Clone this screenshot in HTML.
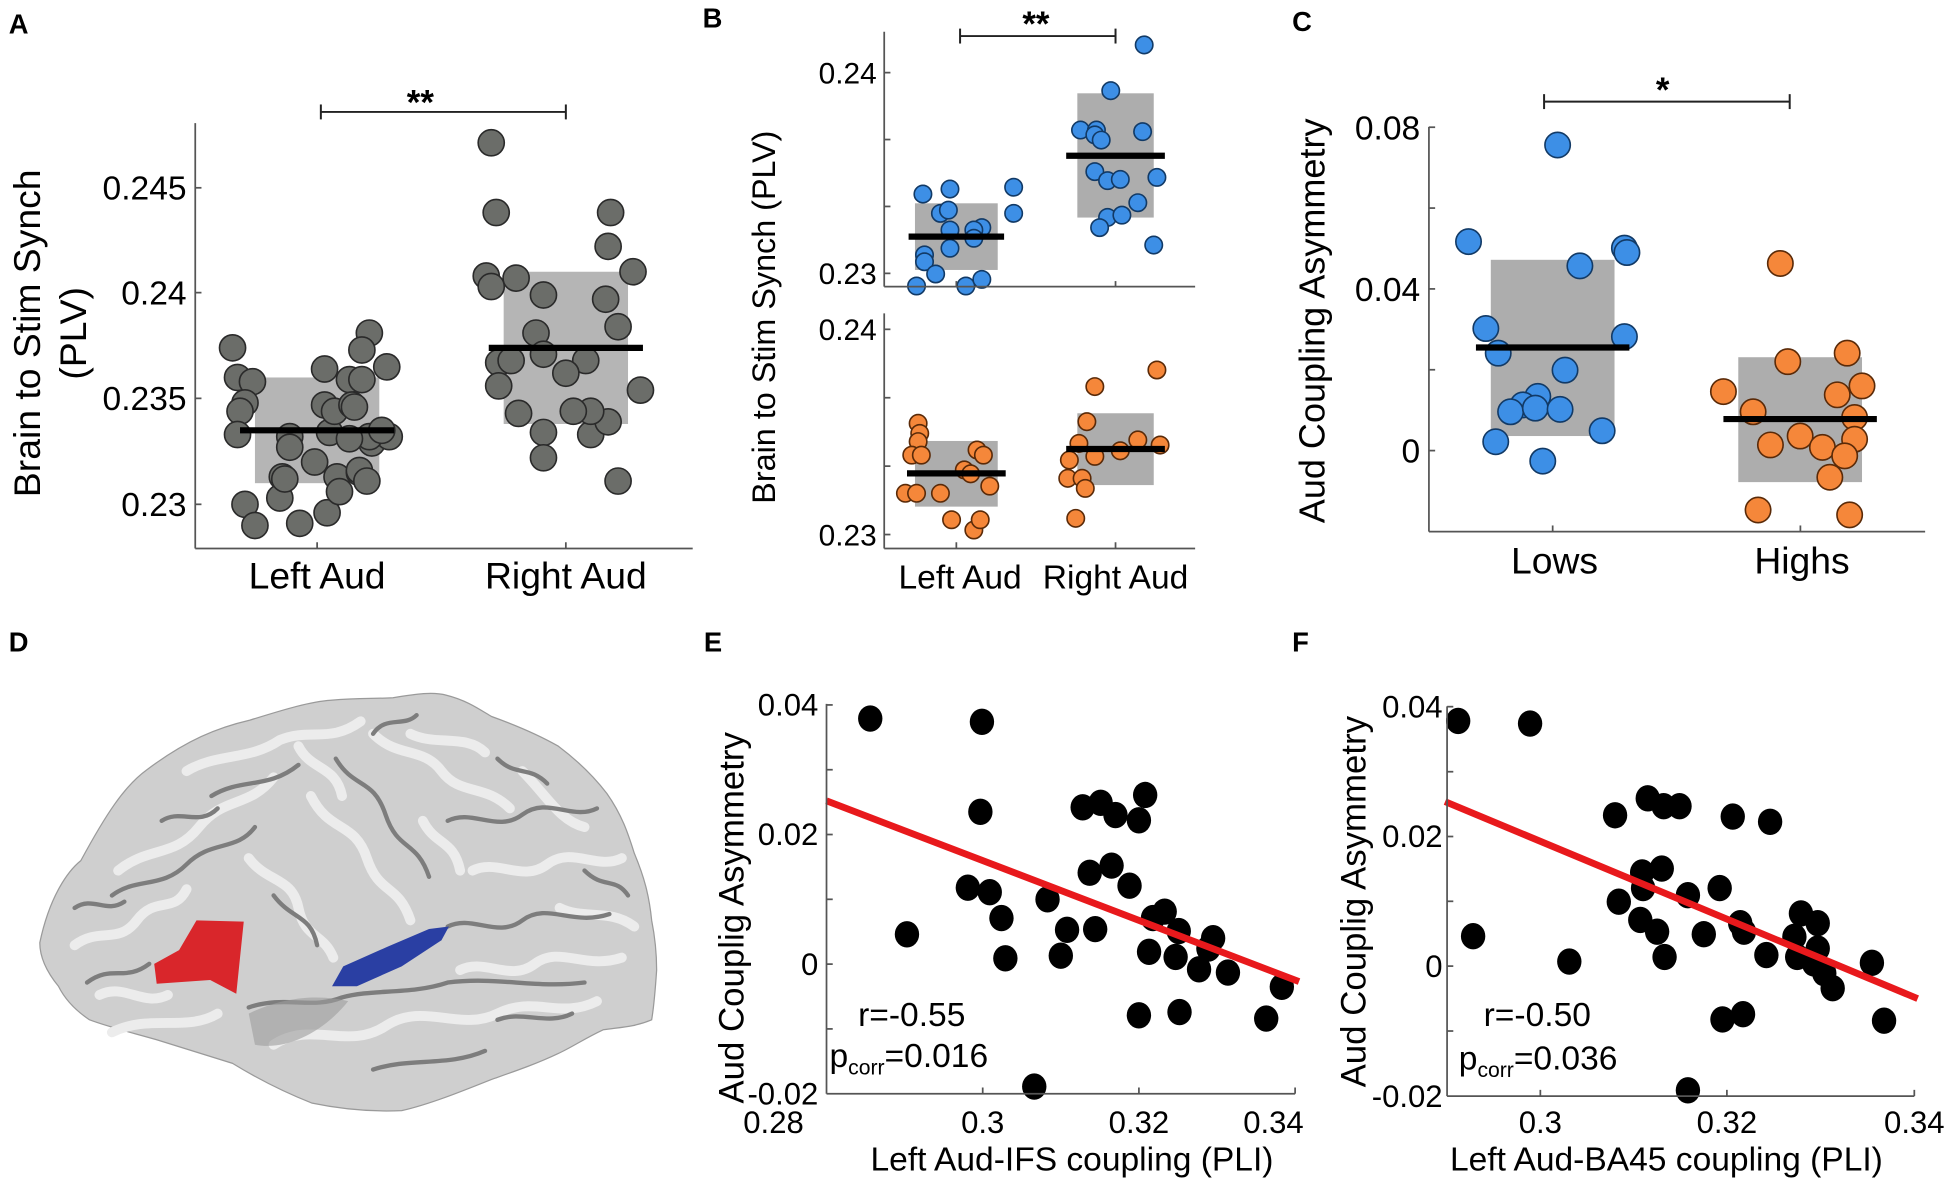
<!DOCTYPE html>
<html><head><meta charset="utf-8">
<style>
html,body{margin:0;padding:0;background:#fff;}
svg{display:block;font-family:"Liberation Sans",Arial,sans-serif;}
</style></head>
<body>
<svg id="fig" width="1950" height="1184" viewBox="0 0 1568 952" preserveAspectRatio="none" xmlns="http://www.w3.org/2000/svg">
<rect x="0" y="0" width="1568" height="952" fill="#fff"/>

<!-- Panel letters -->
<g font-weight="bold" font-size="22" fill="#000">
<text x="7" y="27">A</text>
<text x="565" y="22">B</text>
<text x="1039" y="25">C</text>
<text x="7" y="524">D</text>
<text x="566" y="524">E</text>
<text x="1039" y="524">F</text>
</g>

<!-- Panel A static -->
<g id="panelA">
<g id="aMarks"></g>
<g stroke="#555" stroke-width="1.4" fill="none">
<line x1="157" y1="99" x2="157" y2="441"/><line x1="157" y1="441" x2="557" y2="441"/>
<line x1="157" y1="151" x2="162" y2="151"/><line x1="157" y1="235.3" x2="162" y2="235.3"/>
<line x1="157" y1="320.3" x2="162" y2="320.3"/><line x1="157" y1="405.5" x2="162" y2="405.5"/>
<line x1="255" y1="441" x2="255" y2="436"/><line x1="455" y1="441" x2="455" y2="436"/>
</g>
<g font-size="27" text-anchor="end" fill="#000">
<text x="150" y="160.5">0.245</text><text x="150" y="244.8">0.24</text>
<text x="150" y="329.8">0.235</text><text x="150" y="415">0.23</text>
</g>
<g font-size="30" text-anchor="middle">
<text x="255" y="473">Left Aud</text><text x="455" y="473">Right Aud</text>
</g>
<text transform="translate(32,268) rotate(-90)" font-size="30" text-anchor="middle">Brain to Stim Synch</text>
<text transform="translate(69,268) rotate(-90)" font-size="30" text-anchor="middle">(PLV)</text>
<g stroke="#222" stroke-width="1.6">
<line x1="258" y1="90" x2="455" y2="90"/><line x1="258" y1="84" x2="258" y2="96"/><line x1="455" y1="84" x2="455" y2="96"/>
</g>
<text x="338" y="92" font-size="28" font-weight="bold" text-anchor="middle">**</text>
</g>

<!-- Panel B static -->
<g id="panelB">
<g id="bMarks"></g>
<g stroke="#555" stroke-width="1.4" fill="none">
<line x1="711" y1="25.5" x2="711" y2="230.5"/><line x1="711" y1="230.5" x2="961" y2="230.5"/>
<line x1="711" y1="58.4" x2="716" y2="58.4"/><line x1="711" y1="112.2" x2="716" y2="112.2"/>
<line x1="711" y1="166" x2="716" y2="166"/><line x1="711" y1="219.8" x2="716" y2="219.8"/>
<line x1="769" y1="230.5" x2="769" y2="226"/><line x1="897" y1="230.5" x2="897" y2="226"/>
<line x1="711" y1="252" x2="711" y2="441"/><line x1="711" y1="441" x2="961" y2="441"/>
<line x1="711" y1="264.8" x2="716" y2="264.8"/><line x1="711" y1="319.8" x2="716" y2="319.8"/>
<line x1="711" y1="374.8" x2="716" y2="374.8"/><line x1="711" y1="429.8" x2="716" y2="429.8"/>
<line x1="769" y1="441" x2="769" y2="436"/><line x1="897" y1="441" x2="897" y2="436"/>
</g>
<g font-size="24" text-anchor="end">
<text x="705" y="67">0.24</text><text x="705" y="228.5">0.23</text>
<text x="705" y="273.5">0.24</text><text x="705" y="438.5">0.23</text>
</g>
<g font-size="27" text-anchor="middle">
<text x="772" y="473">Left Aud</text><text x="897" y="473">Right Aud</text>
</g>
<text transform="translate(623,255) rotate(-90)" font-size="26" text-anchor="middle">Brain to Stim Synch (PLV)</text>
<g stroke="#222" stroke-width="1.6">
<line x1="772" y1="29" x2="897" y2="29"/><line x1="772" y1="23" x2="772" y2="35"/><line x1="897" y1="23" x2="897" y2="35"/>
</g>
<text x="833" y="29" font-size="28" font-weight="bold" text-anchor="middle">**</text>
</g>

<!-- Panel C static -->
<g id="panelC">
<g id="cMarks"></g>
<g stroke="#555" stroke-width="1.4" fill="none">
<line x1="1149" y1="102" x2="1149" y2="427.5"/><line x1="1149" y1="427.5" x2="1548" y2="427.5"/>
<line x1="1149" y1="102.3" x2="1154" y2="102.3"/><line x1="1149" y1="167.3" x2="1154" y2="167.3"/>
<line x1="1149" y1="232.3" x2="1154" y2="232.3"/><line x1="1149" y1="297.3" x2="1154" y2="297.3"/>
<line x1="1149" y1="362.3" x2="1154" y2="362.3"/>
<line x1="1248.5" y1="427.5" x2="1248.5" y2="422.5"/><line x1="1447.7" y1="427.5" x2="1447.7" y2="422.5"/>
</g>
<g font-size="27" text-anchor="end">
<text x="1142" y="112">0.08</text><text x="1142" y="242">0.04</text><text x="1142" y="372">0</text>
</g>
<g font-size="30" text-anchor="middle">
<text x="1250" y="461">Lows</text><text x="1449" y="461">Highs</text>
</g>
<text transform="translate(1065,258) rotate(-90)" font-size="29" text-anchor="middle">Aud Coupling Asymmetry</text>
<g stroke="#222" stroke-width="1.6">
<line x1="1241.6" y1="81.7" x2="1439.1" y2="81.7"/><line x1="1241.6" y1="75.7" x2="1241.6" y2="87.7"/><line x1="1439.1" y1="75.7" x2="1439.1" y2="87.7"/>
</g>
<text x="1337" y="82" font-size="28" font-weight="bold" text-anchor="middle">*</text>
</g>

<!-- Panel D: brain -->
<g id="panelD">
<path d="M32,758 C40,720 55,700 65,692 C85,655 100,632 118,619 C150,595 175,585 201,579 C230,570 250,564 266,563 C290,561 300,562 316,561 C335,558 348,556 359,559 C375,563 385,570 395,576 C420,585 435,592 449,600 C465,612 478,625 488,638 C500,655 505,670 510,686 C518,705 522,720 524,740 C527,755 528,768 528,780 C527,795 526,808 524,820 C510,826 498,826 485,828 C470,835 460,842 449,847 C430,856 412,862 395,868 C370,878 345,888 323,893 C300,894 275,892 251,887 C228,878 205,866 187,855 C165,848 145,842 126,836 C105,830 88,826 72,820 C60,812 52,803 47,793 C38,782 32,770 32,758 Z" fill="#cfcfcf" stroke="#9a9a9a" stroke-width="1"/>
<g fill="none" stroke="#ececec" stroke-width="8" stroke-linecap="round">
<path d="M95,700 C120,680 140,690 160,665 C180,640 200,650 220,625"/>
<path d="M150,620 C175,605 200,612 225,595 C250,585 265,598 290,580"/>
<path d="M300,590 C320,610 340,600 355,620 C370,640 390,630 410,650"/>
<path d="M250,640 C265,670 285,660 295,690 C305,720 320,710 330,740"/>
<path d="M200,690 C215,710 235,705 240,730 C245,755 260,750 268,770"/>
<path d="M60,760 C80,745 95,760 110,740 C125,720 140,735 150,715"/>
<path d="M380,700 C400,690 420,710 440,695 C460,680 480,700 500,690"/>
<path d="M370,780 C390,770 410,790 430,775 C450,760 470,780 500,770"/>
<path d="M220,840 C250,820 280,845 310,825 C340,805 370,830 400,815 C430,800 450,820 480,805"/>
<path d="M80,800 C100,790 115,810 135,800"/>
<path d="M420,620 C440,640 450,660 470,665"/>
<path d="M330,590 C350,600 375,590 390,605"/>
<path d="M240,600 C250,620 270,615 275,640"/>
<path d="M340,660 C350,680 365,675 370,700"/>
<path d="M450,730 C470,740 490,730 510,745"/>
<path d="M90,830 C120,815 150,830 175,815"/>
</g>
<g fill="none" stroke="#7d7d7d" stroke-width="3.5" stroke-linecap="round">
<path d="M90,720 C110,705 130,715 150,695 C170,675 190,685 205,665"/>
<path d="M170,640 C195,625 215,635 240,615"/>
<path d="M270,610 C285,635 300,625 310,655 C320,685 335,675 345,705"/>
<path d="M220,720 C235,740 250,735 255,760"/>
<path d="M360,660 C380,650 400,670 420,655 C440,640 460,660 480,650"/>
<path d="M360,745 C380,735 400,755 420,740 C440,725 460,745 490,735"/>
<path d="M70,790 C90,775 100,790 120,775"/>
<path d="M200,810 C230,800 250,812 275,802 C300,795 330,800 360,790 C400,785 430,795 470,790"/>
<path d="M300,860 C330,850 360,858 390,845"/>
<path d="M130,660 C145,650 160,665 175,650"/>
<path d="M300,590 C310,575 325,585 335,575"/>
<path d="M400,610 C415,625 425,615 440,630"/>
<path d="M470,700 C485,715 495,705 505,720"/>
<path d="M60,730 C75,720 85,735 100,725"/>
<path d="M400,820 C420,812 440,825 460,815"/>
</g>
<path d="M200,815 C230,800 260,800 280,805 C260,830 230,845 205,840 Z" fill="#9c9c9c" opacity="0.6"/>
<polygon points="158,740 196,741 190,799 169,788 126,791 124,775 144,764" fill="#d9262b"/>
<polygon points="267,793 276,777 312,761 345,747 361,745 355,756 323,777 287,793" fill="#2a3fa3"/>
</g>

<!-- Panel E static -->
<g id="panelE">
<g id="eMarks"></g>
<g stroke="#555" stroke-width="1.4" fill="none">
<line x1="664.6" y1="566" x2="664.6" y2="879.4"/><line x1="664.6" y1="879.4" x2="1041.4" y2="879.4"/>
<line x1="664.6" y1="566.8" x2="669.6" y2="566.8"/><line x1="664.6" y1="618.9" x2="669.6" y2="618.9"/>
<line x1="664.6" y1="671" x2="669.6" y2="671"/><line x1="664.6" y1="723.1" x2="669.6" y2="723.1"/>
<line x1="664.6" y1="775.2" x2="669.6" y2="775.2"/><line x1="664.6" y1="827.3" x2="669.6" y2="827.3"/>
<line x1="790.2" y1="879.4" x2="790.2" y2="874.4"/><line x1="915.8" y1="879.4" x2="915.8" y2="874.4"/>
<line x1="1041.4" y1="879.4" x2="1041.4" y2="874.4"/>
</g>
<g font-size="25" text-anchor="end">
<text x="658" y="575.5">0.04</text><text x="658" y="679.6">0.02</text>
<text x="658" y="784">0</text><text x="658" y="888">-0.02</text>
</g>
<g font-size="25" text-anchor="middle">
<text x="622" y="911">0.28</text><text x="790.2" y="911">0.3</text>
<text x="915.8" y="911">0.32</text><text x="1024" y="911">0.34</text>
</g>
<text x="862" y="941" font-size="27" text-anchor="middle">Left Aud-IFS coupling (PLI)</text>
<text transform="translate(598,738) rotate(-90)" font-size="28" text-anchor="middle">Aud Couplig Asymmetry</text>
<text x="690" y="825" font-size="27">r=-0.55</text>
<text x="667" y="858" font-size="27">p<tspan font-size="17" dy="6">corr</tspan><tspan dy="-6">=0.016</tspan></text>
</g>

<!-- Panel F static -->
<g id="panelF">
<g id="fMarks"></g>
<g stroke="#555" stroke-width="1.4" fill="none">
<line x1="1163.6" y1="568" x2="1163.6" y2="881.3"/><line x1="1163.6" y1="881.3" x2="1539.3" y2="881.3"/>
<line x1="1163.6" y1="568.2" x2="1168.6" y2="568.2"/><line x1="1163.6" y1="620.5" x2="1168.6" y2="620.5"/>
<line x1="1163.6" y1="672.6" x2="1168.6" y2="672.6"/><line x1="1163.6" y1="724.7" x2="1168.6" y2="724.7"/>
<line x1="1163.6" y1="776.8" x2="1168.6" y2="776.8"/><line x1="1163.6" y1="829" x2="1168.6" y2="829"/>
<line x1="1238.6" y1="881.3" x2="1238.6" y2="876.3"/><line x1="1388.6" y1="881.3" x2="1388.6" y2="876.3"/>
<line x1="1539.3" y1="881.3" x2="1539.3" y2="876.3"/>
</g>
<g font-size="25" text-anchor="end">
<text x="1160" y="577">0.04</text><text x="1160" y="681">0.02</text>
<text x="1160" y="785.5">0</text><text x="1160" y="890">-0.02</text>
</g>
<g font-size="25" text-anchor="middle">
<text x="1238.6" y="911">0.3</text><text x="1388.6" y="911">0.32</text><text x="1539.3" y="911">0.34</text>
</g>
<text x="1340" y="941" font-size="27" text-anchor="middle">Left Aud-BA45 coupling (PLI)</text>
<text transform="translate(1098,725) rotate(-90)" font-size="28" text-anchor="middle">Aud Couplig Asymmetry</text>
<text x="1193" y="825" font-size="27">r=-0.50</text>
<text x="1173" y="860" font-size="27">p<tspan font-size="17" dy="6">corr</tspan><tspan dy="-6">=0.036</tspan></text>
</g>
</svg>

<script>
// ---------- Panel A data ----------
const aCategories = ['Left Aud', 'Right Aud'];
const aLeftVals = [0.2374,0.2360,0.2358,0.2348,0.2344,0.2333,0.2332,0.2327,0.2320,0.2313,0.2313,0.2315,0.2329,0.2332,0.2332,0.2335,0.2334,0.2331,0.2381,0.2373,0.2365,0.2364,0.2359,0.2359,0.2347,0.2344,0.2347,0.2300,0.2290,0.2303,0.2291,0.2296,0.2312,0.2306,0.2316,0.2311,0.2346];
const aLeftJit = [-0.34,-0.32,-0.26,-0.29,-0.31,-0.32,-0.11,-0.11,-0.01,-0.14,0.08,0.17,0.22,0.29,0.21,0.26,0.05,0.13,0.21,0.18,0.28,0.03,0.13,0.18,0.03,0.07,0.14,-0.29,-0.25,-0.15,-0.07,0.04,-0.13,0.09,0.17,0.2,0.15];
const aRightVals = [0.2471,0.2438,0.2408,0.2403,0.2407,0.2399,0.2381,0.2371,0.2367,0.2368,0.2356,0.2343,0.2334,0.2322,0.2311,0.2333,0.2339,0.2344,0.2344,0.2354,0.2438,0.2422,0.2410,0.2397,0.2384,0.2368,0.2362];
const aRightJit = [-0.3,-0.28,-0.32,-0.3,-0.2,-0.09,-0.12,-0.09,-0.27,-0.22,-0.27,-0.19,-0.09,-0.09,0.21,0.1,0.17,0.1,0.03,0.3,0.18,0.17,0.27,0.16,0.21,0.08,0];
const aMeans = [0.2335, 0.2374];
const aBoxLow = [0.2310, 0.2338];
const aBoxHigh = [0.2360, 0.2410];

// ---------- Panel B data ----------
const bCategories = ['Left Aud', 'Right Aud'];
const bTopLeftVals = [0.23395,0.2342,0.23429,0.23299,0.23299,0.23315,0.23216,0.23228,0.23216,0.23175,0.23125,0.23092,0.23058,0.22997,0.22937,0.22937,0.2297];
const bTopLeftJit = [-0.21,-0.04,0.36,0.36,-0.1,-0.05,-0.04,0.16,0.11,0.11,-0.04,-0.2,-0.2,-0.13,-0.25,0.06,0.16];
const bTopRightVals = [0.24138,0.2391,0.23714,0.23714,0.2369,0.23664,0.23706,0.23507,0.23462,0.23468,0.23478,0.23352,0.23279,0.2329,0.23228,0.23141];
const bTopRightJit = [0.18,-0.03,-0.22,-0.12,-0.13,-0.09,0.17,-0.13,-0.05,0.03,0.26,0.14,-0.05,0.04,-0.1,0.24];
const bTopMeans = [0.23183, 0.23586];
const bTopBoxLow = [0.23017, 0.23278];
const bTopBoxHigh = [0.23349, 0.23897];
const bBotLeftVals = [0.23542,0.23493,0.23453,0.23387,0.23387,0.23201,0.23201,0.23201,0.23072,0.23022,0.23072,0.23236,0.23412,0.23387,0.23315,0.23296];
const bBotLeftJit = [-0.24,-0.23,-0.24,-0.28,-0.22,-0.32,-0.25,-0.1,-0.03,0.11,0.15,0.21,0.13,0.17,0.05,0.09];
const bBotRightVals = [0.23802,0.23721,0.2355,0.23444,0.23461,0.23436,0.23408,0.23381,0.23363,0.23274,0.23274,0.23225,0.23079];
const bBotRightJit = [0.26,-0.13,-0.18,-0.23,0.14,0.28,0.03,-0.13,-0.29,-0.3,-0.21,-0.19,-0.25];
const bBotMeans = [0.23298, 0.23417];
const bBotBoxLow = [0.23136, 0.23241];
const bBotBoxHigh = [0.23456, 0.23591];

// ---------- Panel C data ----------
const cCategories = ['Lows', 'Highs'];
const cLowsVals = [0.0756,0.0517,0.0501,0.049,0.0457,0.0302,0.0282,0.0241,0.0199,0.0134,0.0113,0.0096,0.0105,0.0102,0.0049,0.0022,-0.0026];
const cLowsJit = [0.02,-0.34,0.29,0.3,0.11,-0.27,0.29,-0.22,0.05,-0.06,-0.12,-0.17,-0.07,0.03,0.2,-0.23,-0.04];
const cHighsVals = [0.0463,0.0241,0.022,0.0146,0.016,0.0138,0.0096,0.0082,0.0036,0.0014,0.0028,0.0008,-0.0013,-0.0066,-0.0147,-0.0159];
const cHighsJit = [-0.08,0.19,-0.05,-0.31,0.25,0.15,-0.19,0.22,0.0,-0.12,0.22,0.09,0.18,0.12,-0.17,0.2];
const cMeans = [0.0255, 0.0078];
const cBoxLow = [0.0036, -0.0078];
const cBoxHigh = [0.0472, 0.0231];

// ---------- Panel E data ----------
const eX = [0.2856,0.2999,0.2997,0.2903,0.2981,0.3009,0.3024,0.3029,0.3083,0.3108,0.31,0.3066,0.3128,0.3144,0.3137,0.3151,0.317,0.3165,0.3208,0.32,0.3188,0.3218,0.3233,0.3251,0.3213,0.3247,0.32,0.3252,0.3277,0.3295,0.3289,0.3314,0.3363,0.3383];
const eY = [0.0379,0.0374,0.0235,0.0046,0.0118,0.0111,0.0071,0.0009,0.01,0.0053,0.0013,-0.0189,0.0242,0.0054,0.0141,0.0249,0.023,0.0152,0.0261,0.0222,0.0121,0.0071,0.0081,0.0051,0.0019,0.0011,-0.0079,-0.0074,-0.0008,0.004,0.0024,-0.0013,-0.0084,-0.0035];
const eFitX = [0.28, 0.3405];
const eFitY = [0.0252, -0.0027];

// ---------- Panel F data ----------
const fX = [0.2912,0.2989,0.2928,0.3031,0.308,0.3115,0.3132,0.3149,0.3084,0.3109,0.313,0.311,0.3107,0.3125,0.3133,0.3158,0.3175,0.3192,0.3206,0.3246,0.3214,0.3218,0.3242,0.3279,0.3272,0.3275,0.3297,0.3297,0.3293,0.3304,0.3313,0.3355,0.3368,0.3195,0.3217,0.3158];
const fY = [0.0377,0.0373,0.0046,0.0007,0.0232,0.0258,0.0246,0.0246,0.0099,0.0144,0.015,0.012,0.0071,0.0053,0.0014,0.0109,0.0049,0.012,0.023,0.0222,0.0066,0.0053,0.0017,0.0081,0.0045,0.0014,0.0066,0.0027,0.0004,-0.0011,-0.0034,0.0005,-0.0084,-0.0082,-0.0074,-0.0191];
const fFitX = [0.2898, 0.3404];
const fFitY = [0.0253, -0.005];

// ---------- Axis functions ----------
const xA = (i) => 255 + 200 * i;
const yA = (v) => 405.5 - (v - 0.23) * 17000;
const xB = (i) => 769 + 128 * i;
const yBt = (v) => 219.8 - (v - 0.23) * 16140;
const yBb = (v) => 429.8 - (v - 0.23) * 16500;
const xC = (i) => 1248.5 + 199 * i;
const yC = (v) => 362.3 - v * 3250;
const xE = (v) => 664.6 + (v - 0.28) * 6280;
const yE = (v) => 775.2 - v * 5210;
const xF = (v) => 1238.6 + (v - 0.3) * 7510;
const yF = (v) => 776.8 - v * 5228;

const NS = 'http://www.w3.org/2000/svg';
function mk(tag, attrs, parent) {
  const e = document.createElementNS(NS, tag);
  for (const k in attrs) e.setAttribute(k, attrs[k]);
  parent.appendChild(e);
  return e;
}

function drawGroup(parent, prefix, xs, ys, i, vals, jit, boxLow, boxHigh, mean, boxHalf, meanHalf, spacing, r, fill, stroke, boxFill) {
  const bx0 = xs(i - boxHalf), bx1 = xs(i + boxHalf);
  const box = mk('rect', {x: bx0, y: ys(boxHigh[i]), width: bx1 - bx0, height: ys(boxLow[i]) - ys(boxHigh[i]), fill: boxFill}, parent);
  
  
  for (let k = 0; k < vals.length; k++) {
    const c = mk('circle', {cx: xs(i + jit[k]), cy: ys(vals[k]), r: r, fill: fill, stroke: stroke, 'stroke-width': 1.3}, parent);
    
    
  }
  const m = mk('line', {x1: xs(i - meanHalf), x2: xs(i + meanHalf), y1: ys(mean[i]), y2: ys(mean[i]), stroke: '#000', 'stroke-width': 5}, parent);
  
  
}

// Panel A
const gA = document.getElementById('aMarks');
drawGroup(gA, 'a-left-aud', xA, yA, 0, aLeftVals, aLeftJit, aBoxLow, aBoxHigh, aMeans, 0.25, 0.31, 200, 10.5, '#6b6d69', '#2a2a2a', '#b5b5b5');
drawGroup(gA, 'a-right-aud', xA, yA, 1, aRightVals, aRightJit, aBoxLow, aBoxHigh, aMeans, 0.25, 0.31, 200, 10.5, '#6b6d69', '#2a2a2a', '#b5b5b5');

// Panel B
const gB = document.getElementById('bMarks');
drawGroup(gB, 'b-top-left-aud', xB, yBt, 0, bTopLeftVals, bTopLeftJit, bTopBoxLow, bTopBoxHigh, bTopMeans, 0.26, 0.3, 128, 7, '#3d8fe6', '#123a66', '#adadad');
drawGroup(gB, 'b-top-right-aud', xB, yBt, 1, bTopRightVals, bTopRightJit, bTopBoxLow, bTopBoxHigh, bTopMeans, 0.24, 0.31, 128, 7, '#3d8fe6', '#123a66', '#adadad');
drawGroup(gB, 'b-bottom-left-aud', xB, yBb, 0, bBotLeftVals, bBotLeftJit, bBotBoxLow, bBotBoxHigh, bBotMeans, 0.26, 0.31, 128, 7, '#f5873a', '#5a2a08', '#adadad');
drawGroup(gB, 'b-bottom-right-aud', xB, yBb, 1, bBotRightVals, bBotRightJit, bBotBoxLow, bBotBoxHigh, bBotMeans, 0.24, 0.31, 128, 7, '#f5873a', '#5a2a08', '#adadad');

// Panel C
const gC = document.getElementById('cMarks');
drawGroup(gC, 'c-lows', xC, yC, 0, cLowsVals, cLowsJit, cBoxLow, cBoxHigh, cMeans, 0.25, 0.31, 199, 10.2, '#3d8fe6', '#123a66', '#adadad');
drawGroup(gC, 'c-highs', xC, yC, 1, cHighsVals, cHighsJit, cBoxLow, cBoxHigh, cMeans, 0.25, 0.31, 199, 10.2, '#f5873a', '#5a2a08', '#adadad');

// Panel E & F scatter
function drawScatter(parent, prefix, xs, ys, X, Y, fitX, fitY) {
  for (let k = 0; k < X.length; k++) {
    const c = mk('ellipse', {cx: xs(X[k]), cy: ys(Y[k]), rx: 9.8, ry: 10.6, fill: '#000'}, parent);
    
    
  }
  const l = mk('line', {x1: xs(fitX[0]), y1: ys(fitY[0]), x2: xs(fitX[1]), y2: ys(fitY[1]), stroke: '#e8191c', 'stroke-width': 5.5}, parent);
  
  
}
drawScatter(document.getElementById('eMarks'), 'e', xE, yE, eX, eY, eFitX, eFitY);
drawScatter(document.getElementById('fMarks'), 'f', xF, yF, fX, fY, fFitX, fFitY);
</script>
</body></html>
